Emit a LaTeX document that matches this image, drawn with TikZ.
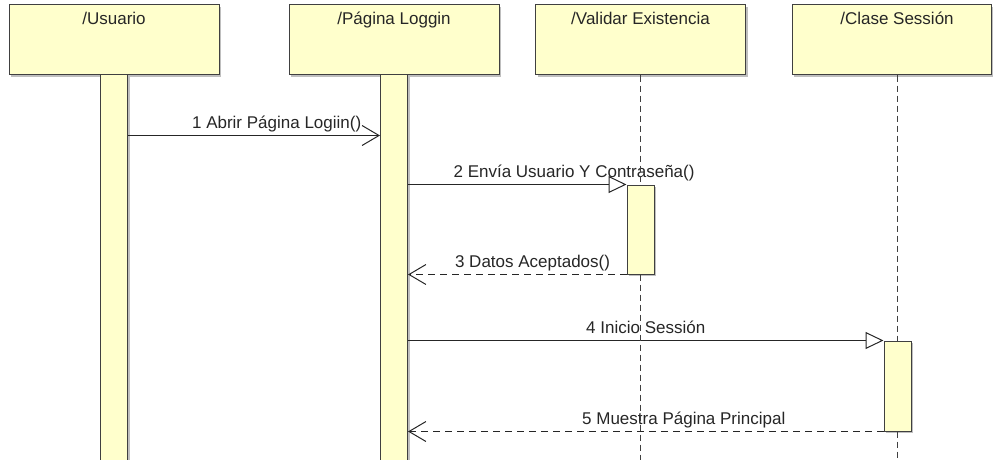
\documentclass[tikz,border=0pt]{standalone}
\usepackage{fontspec}
\setmainfont{Liberation Sans}
\usetikzlibrary{arrows.meta,positioning,shadows}

\definecolor{umlyellow}{RGB}{255,255,204}
\definecolor{umlline}{RGB}{64,64,64}

\tikzset{
  lifebox/.style={draw=umlline, fill=umlyellow, line width=1pt, inner sep=0pt,
    drop shadow={shadow xshift=2pt, shadow yshift=-2pt, fill=black, opacity=.25}},
  objbox/.style={lifebox, minimum width=210pt, minimum height=70pt},
  actbox/.style={lifebox, minimum width=27pt},
  objlbl/.style={anchor=base, yshift=-20pt, inner sep=0pt, text=black!85},
  msglbl/.style={anchor=base, yshift=7pt, inner sep=0pt, text=black!85},
  lifeline/.style={draw=umlline, line width=1.2pt, dash pattern=on 6pt off 4pt},
  callmsg/.style={draw=black!85, line width=1pt, -{Straight Barb[length=17pt,width=20pt]}},
  syncmsg/.style={draw=black!85, line width=1pt, -{Triangle[open,length=18pt,width=17pt]}},
  replymsg/.style={callmsg, dash pattern=on 7pt off 5pt}
}

\begin{document}
\begin{tikzpicture}[x=1pt,y=-1pt,on grid,font=\fontsize{17}{20}\selectfont]
  \useasboundingbox (0,0) rectangle (993,460);
  \clip (0,0) rectangle (993,460);

  % objects
  \node[objbox,label={[objlbl]north:/Usuario}] (usuario) at (114,40) {};
  \node[objbox,label={[objlbl]north:/Página Loggin}] (pagina) [right=280pt of usuario] {};
  \node[objbox,label={[objlbl]north:/Validar Existencia}] (validar) [right=246.5pt of pagina] {};
  \node[objbox,minimum width=199pt,label={[objlbl,xshift=5.5pt]north:/Clase Sessión}] (clase) [right=251pt of validar] {};

  % activations
  \node[actbox,minimum height=400pt] (bar_usuario) [below=235pt of usuario] {};
  \node[actbox,minimum height=400pt] (bar_pagina) [below=235pt of pagina] {};
  \node[actbox,minimum height=89pt] (act_validar) [below=189.5pt of validar] {};
  \node[actbox,minimum height=90pt] (act_clase) [below=346pt of clase,xshift=6pt] {};
  \coordinate (clase_top) at (act_clase |- clase.south);

  % messages
  \coordinate[below=61pt of bar_usuario.north] (abrir);
  \path (bar_usuario.east |- abrir) edge[callmsg] node[msglbl,pos=.59] {1 Abrir Página Logiin()} (bar_pagina.west |- abrir);
  \path (bar_pagina.east |- act_validar.north) edge[syncmsg] node[msglbl,pos=.76] {2 Envía Usuario Y Contraseña()} (act_validar.north west);
  \path (act_validar.south west) edge[replymsg] node[msglbl,pos=.43] {3 Datos Aceptados()} (bar_pagina.east |- act_validar.south);
  \path (bar_pagina.east |- act_clase.north) edge[syncmsg] node[msglbl,pos=.5] {4 Inicio Sessión} (act_clase.north west);
  \path (act_clase.south west) edge[replymsg] node[msglbl,pos=.42] {5 Muestra Página Principal} (bar_pagina.east |- act_clase.south);

  % lifelines
  \draw[lifeline] (validar.south) -- (act_validar.north)
                  (act_validar.south) -- (validar.south |- bar_usuario.south);
  \draw[lifeline] (clase_top) -- (act_clase.north)
                  (act_clase.south) -- (clase_top |- bar_usuario.south);
\end{tikzpicture}
\end{document}
